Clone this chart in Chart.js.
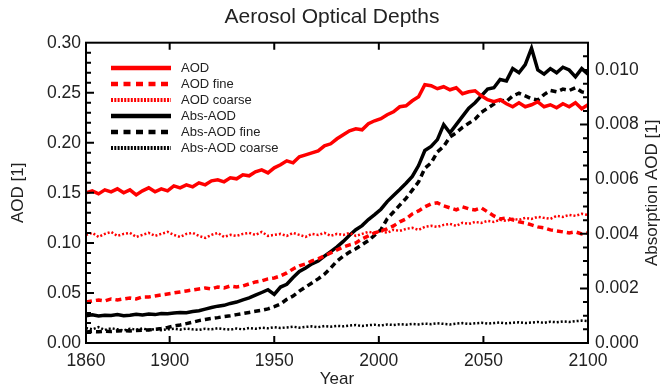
<!DOCTYPE html>
<html>
<head>
<meta charset="utf-8">
<script src="https://cdn.jsdelivr.net/npm/chart.js@4/dist/chart.umd.min.js"></script>
<style>
html,body{margin:0;padding:0;background:#fff;}
#wrap{width:664px;height:387px;position:relative;}
</style>
</head>
<body>
<div id="wrap"><canvas id="c" width="664" height="387"></canvas></div>
<script>
// ---- data ----
const years = [1860,1863,1866,1869,1872,1875,1878,1881,1884,1887,
1890,1893,1896,1899,1902,1905,1908,1911,1914,1917,
1920,1923,1926,1929,1932,1935,1938,1941,1944,1947,
1950,1953,1956,1959,1962,1965,1968,1971,1974,1977,
1980,1983,1986,1989,1992,1995,1998,2001,2004,2007,
2010,2013,2016,2019,2022,2025,2028,2031,2034,2037,
2040,2043,2046,2049,2052,2055,2058,2061,2064,2067,
2070,2073,2076,2079,2082,2085,2088,2091,2094,2097,2100];

const xTickYears = [1860,1900,1950,2000,2050,2100];
const aodTicks = [0,0.05,0.10,0.15,0.20,0.25,0.30];
const absTicks = [0,0.002,0.004,0.006,0.008,0.010];

const aod = [.150,.152,.149,.153,.151,.154,.150,.153,.148,.152,
.155,.151,.154,.152,.157,.155,.158,.156,.160,.158,
.162,.163,.161,.165,.164,.168,.167,.171,.173,.170,
.175,.178,.182,.180,.186,.188,.190,.192,.197,.199,
.204,.208,.212,.214,.213,.219,.222,.224,.228,.231,
.236,.237,.242,.246,.258,.257,.254,.256,.253,.255,
.249,.251,.252,.247,.243,.241,.243,.239,.236,.240,
.236,.238,.241,.236,.238,.235,.239,.236,.240,.234,.238];

const aodFine = [.041,.042,.043,.042,.044,.043,.044,.045,.044,.046,
.046,.047,.048,.049,.050,.051,.052,.053,.054,.055,
.054,.056,.055,.057,.056,.057,.059,.061,.062,.064,
.065,.067,.070,.074,.077,.079,.082,.084,.087,.090,
.093,.096,.098,.100,.104,.107,.110,.112,.114,.117,
.121,.124,.129,.132,.136,.139,.140,.137,.135,.133,
.136,.134,.133,.135,.131,.127,.124,.125,.123,.121,
.120,.118,.116,.115,.113,.112,.111,.110,.111,.109,.110];

const aodCoarse = [.108,.110,.106,.109,.111,.107,.109,.110,.106,.108,
.110,.107,.109,.111,.108,.106,.109,.110,.107,.105,
.108,.110,.106,.108,.107,.109,.110,.108,.111,.107,
.108,.109,.107,.110,.108,.106,.109,.108,.110,.107,
.109,.108,.110,.107,.109,.111,.110,.112,.110,.113,
.112,.114,.115,.113,.116,.117,.116,.118,.119,.117,
.120,.119,.121,.120,.122,.121,.123,.122,.124,.123,
.125,.124,.126,.125,.124,.127,.126,.128,.127,.129,.128];

const absAod = [.00100,.00103,.00099,.00102,.00101,.00104,.00100,.00102,.00105,.00103,
.00106,.00104,.00108,.00107,.00110,.00112,.00111,.00115,.00118,.00124,
.00130,.00135,.00138,.00145,.00150,.00158,.00165,.00175,.00185,.00195,
.00178,.00205,.00215,.00240,.00262,.00275,.00290,.00300,.00318,.00335,
.00352,.00372,.00395,.00415,.00430,.00452,.00470,.00490,.00518,.00540,
.00562,.00585,.00610,.00650,.00705,.00720,.00745,.00800,.00770,.00800,
.00830,.00860,.00880,.00905,.00930,.00935,.00965,.00960,.01005,.00990,
.01020,.01080,.01000,.00985,.01005,.00990,.01010,.01000,.00975,.01005,.00985];

const absFine = [.00040,.00042,.00041,.00043,.00042,.00044,.00045,.00044,.00046,.00047,
.00048,.00050,.00053,.00057,.00062,.00066,.00071,.00076,.00082,.00086,
.00090,.00093,.00097,.00100,.00104,.00108,.00112,.00116,.00120,.00125,
.00133,.00143,.00160,.00172,.00190,.00205,.00220,.00235,.00252,.00275,
.00300,.00318,.00333,.00345,.00360,.00375,.00395,.00415,.00455,.00480,
.00505,.00530,.00560,.00590,.00640,.00660,.00700,.00720,.00755,.00770,
.00790,.00805,.00820,.00845,.00860,.00875,.00890,.00885,.00905,.00915,
.00905,.00895,.00890,.00910,.00925,.00920,.00930,.00925,.00935,.00920,.00915];

const absCoarse = [.00055,.00050,.00058,.00048,.00054,.00050,.00046,.00052,.00049,.00053,
.00048,.00051,.00047,.00050,.00052,.00049,.00053,.00050,.00048,.00052,
.00050,.00054,.00051,.00049,.00053,.00050,.00055,.00052,.00056,.00054,
.00058,.00055,.00057,.00060,.00056,.00059,.00061,.00058,.00062,.00060,
.00063,.00061,.00064,.00066,.00062,.00065,.00067,.00064,.00068,.00066,
.00069,.00067,.00070,.00068,.00071,.00069,.00072,.00070,.00068,.00071,
.00073,.00070,.00072,.00074,.00071,.00073,.00075,.00072,.00074,.00076,
.00073,.00075,.00077,.00074,.00078,.00076,.00079,.00077,.00080,.00082,.00080];

const rightTitle = 'Absorption AOD [1]';

// ---- chart ----
const FONT = "'Liberation Sans', Arial, sans-serif";
const pts = arr => years.map((x, i) => ({x: x, y: arr[i]}));

function ds(label, arr, axis, color, width, dash) {
  return {label: label, data: pts(arr), yAxisID: axis, borderColor: color,
    backgroundColor: color, borderWidth: width, borderDash: dash,
    pointRadius: 0, tension: 0, fill: false};
}

const datasets = [
  ds('AOD', aod, 'y', '#ff0000', 3.5, []),
  ds('AOD fine', aodFine, 'y', '#ff0000', 3.5, [6, 4]),
  ds('AOD coarse', aodCoarse, 'y', '#ff0000', 2.5, [2, 2]),
  ds('Abs-AOD', absAod, 'y2', '#000000', 3.5, []),
  ds('Abs-AOD fine', absFine, 'y2', '#000000', 3.5, [6, 4]),
  ds('Abs-AOD coarse', absCoarse, 'y2', '#000000', 2.5, [2, 2])
];

const framePlugin = {
  id: 'frame',
  afterDatasetsDraw(chart) {
    const ctx = chart.ctx, a = chart.chartArea;
    const sx = chart.scales.x, sy = chart.scales.y, sy2 = chart.scales.y2;
    ctx.save();
    ctx.strokeStyle = '#000';
    ctx.lineWidth = 2;
    ctx.setLineDash([]);
    ctx.strokeRect(a.left, a.top, a.right - a.left, a.bottom - a.top);
    ctx.beginPath();
    xTickYears.slice(1, -1).forEach(v => {
      const px = sx.getPixelForValue(v);
      ctx.moveTo(px, a.bottom); ctx.lineTo(px, a.bottom - 7);
      ctx.moveTo(px, a.top); ctx.lineTo(px, a.top + 7);
    });
    for (let k = 1; k < 30; k++) {
      const py = sy.getPixelForValue(k / 100);
      const len = (k % 5 === 0) ? 8 : 5;
      ctx.moveTo(a.left, py); ctx.lineTo(a.left + len, py);
    }
    for (let k = 1; k < 22; k++) {
      const py = sy2.getPixelForValue(k * 0.0005);
      const len = (k % 4 === 0) ? 8 : 5;
      ctx.moveTo(a.right, py); ctx.lineTo(a.right - len, py);
    }
    ctx.stroke();
    // legend inside the plot
    const lx0 = 111, lx1 = 171, tx = 181, ty0 = 68, dy = 16;
    chart.data.datasets.forEach((d, i) => {
      const y = ty0 + i * dy;
      ctx.beginPath();
      ctx.strokeStyle = d.borderColor;
      ctx.lineWidth = d.borderDash.length ? (d.borderDash[0] > 3 ? 4.5 : 4) : 4.5;
      ctx.setLineDash(d.borderDash.length ? (d.borderDash[0] > 3 ? [7, 5.5] : [2, 1.3]) : []);
      ctx.moveTo(lx0, y); ctx.lineTo(lx1, y);
      ctx.stroke();
      ctx.setLineDash([]);
      ctx.fillStyle = '#222';
      ctx.font = '13px ' + FONT;
      ctx.textBaseline = 'middle';
      ctx.textAlign = 'left';
      ctx.fillText(d.label, tx, y);
    });
    // right axis title, reading bottom-to-top
    ctx.save();
    ctx.translate(652, (a.top + a.bottom) / 2);
    ctx.rotate(-Math.PI / 2);
    ctx.fillStyle = '#222';
    ctx.font = '17px ' + FONT;
    ctx.textAlign = 'center';
    ctx.textBaseline = 'middle';
    ctx.fillText(rightTitle, 0, 0);
    ctx.restore();
    ctx.restore();
  }
};

new Chart(document.getElementById('c'), {
  type: 'line',
  data: {datasets: datasets},
  plugins: [framePlugin],
  options: {
    responsive: false,
    animation: false,
    layout: {padding: 0},
    plugins: {
      legend: {display: false},
      tooltip: {enabled: false},
      title: {display: true, text: 'Aerosol Optical Depths', color: '#222',
        font: {family: FONT, size: 21, weight: 'normal'}, padding: {top: 5, bottom: 12.5}}
    },
    scales: {
      x: {
        type: 'linear', position: 'bottom', min: 1860, max: 2100,
        grid: {display: false, drawTicks: false},
        border: {display: false},
        afterBuildTicks: s => { s.ticks = xTickYears.map(v => ({value: v})); },
        afterFit: s => { s.height = 44; },
        ticks: {color: '#222', font: {family: FONT, size: 17.5}, padding: 8,
          callback: v => String(v), maxRotation: 0, autoSkip: false},
        title: {display: true, text: 'Year', color: '#222',
          font: {family: FONT, size: 17}, padding: {top: 0, bottom: -3}}
      },
      y: {
        type: 'linear', position: 'left', min: 0, max: 0.30,
        grid: {display: false, drawTicks: false},
        border: {display: false},
        afterBuildTicks: s => { s.ticks = aodTicks.map(v => ({value: v})); },
        afterFit: s => { s.width = 86; },
        ticks: {color: '#222', font: {family: FONT, size: 17.5}, padding: 5,
          callback: v => v.toFixed(2)},
        title: {display: true, text: 'AOD [1]', color: '#222',
          font: {family: FONT, size: 17}, padding: {top: 8, bottom: 0}}
      },
      y2: {
        type: 'linear', position: 'right', min: 0, max: 0.011,
        grid: {display: false, drawTicks: false},
        border: {display: false},
        afterBuildTicks: s => { s.ticks = absTicks.map(v => ({value: v})); },
        afterFit: s => { s.width = 76; },
        ticks: {color: '#222', font: {family: FONT, size: 17.5}, padding: 7,
          callback: v => v.toFixed(3)},
        title: {display: false}
      }
    }
  }
});
</script>
</body>
</html>
